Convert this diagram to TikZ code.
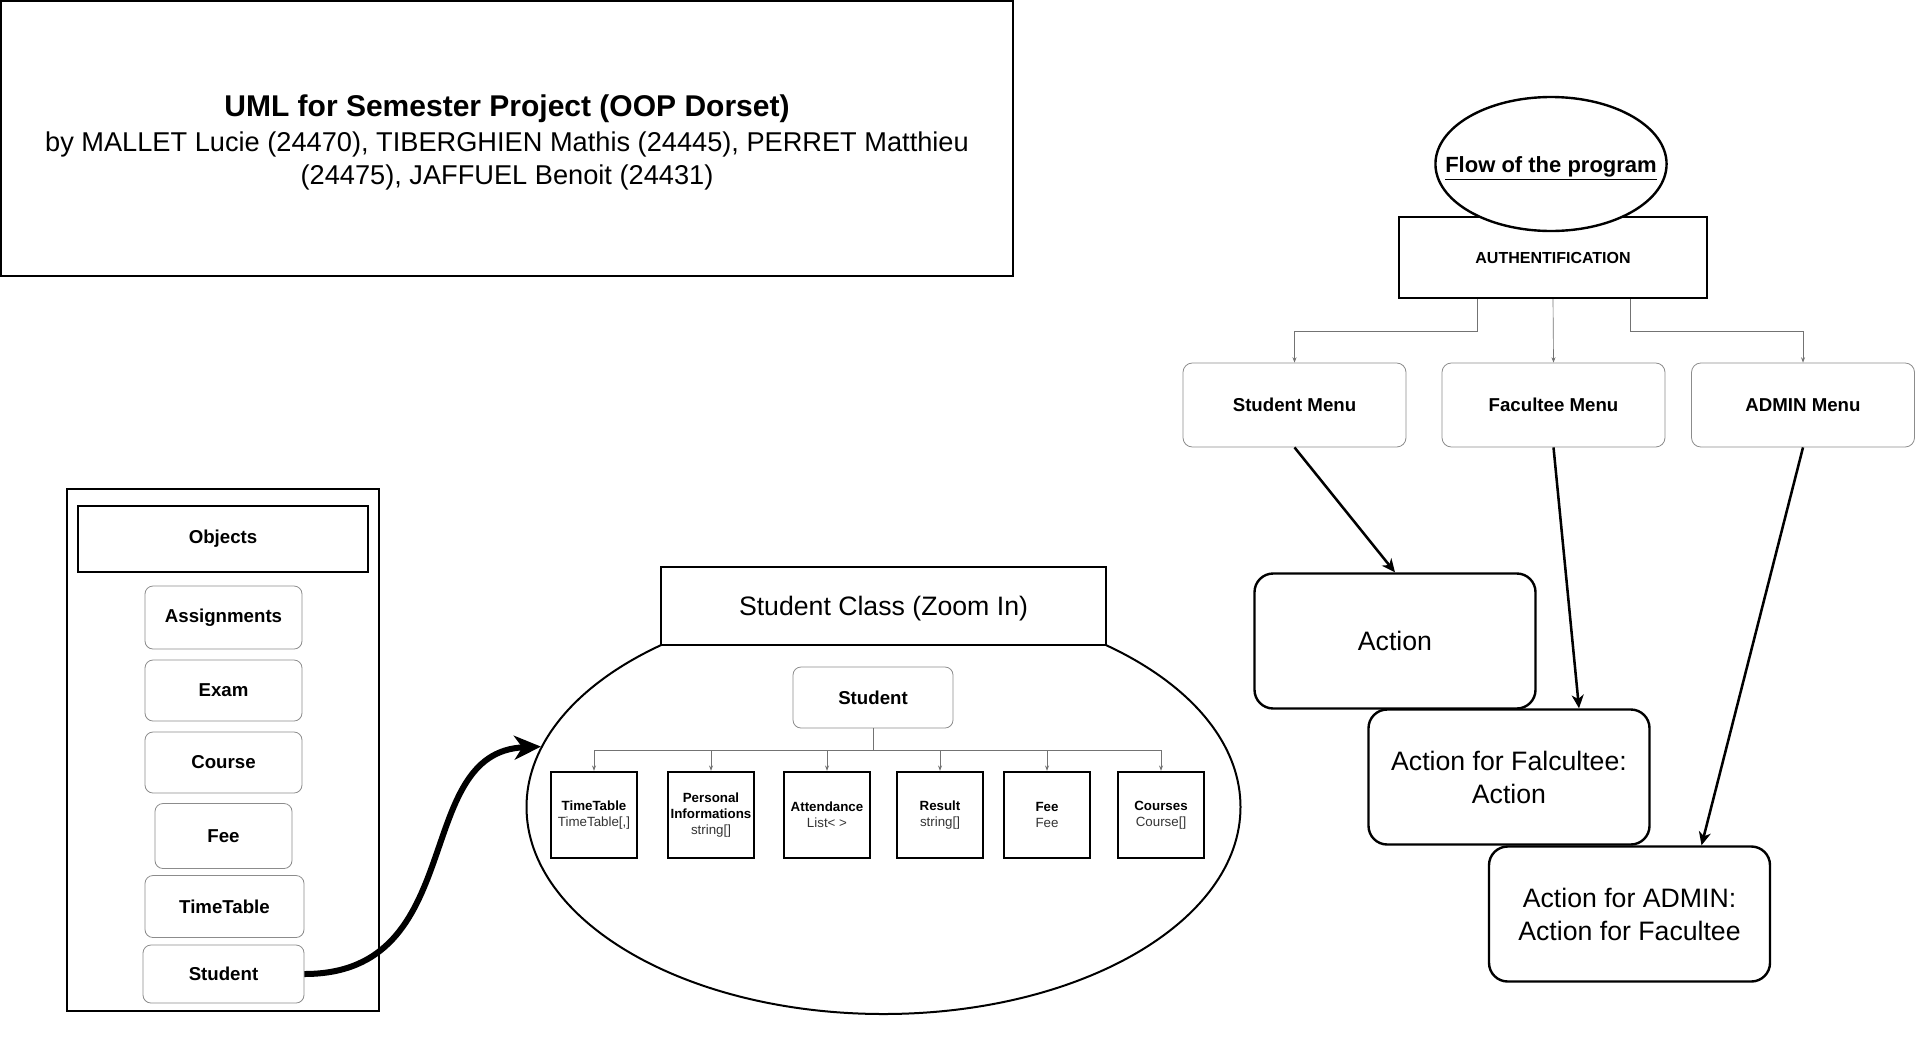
\documentclass[tikz,border=0pt]{standalone}
\usepackage{fontspec}
\setmainfont{Liberation Sans}
\usetikzlibrary{shapes.geometric,arrows.meta,calc}

\begin{document}
\begin{tikzpicture}[x=0.75pt,y=-0.75pt,
  thickbox/.style={draw,line width=1.8pt,fill=white,inner sep=0pt},
  menubox/.style={draw=black!45,line width=0.6pt,rounded corners=7pt,fill=white,inner sep=0pt,
    minimum width=167.25pt,minimum height=63pt,font=\fontsize{14}{17}\selectfont\bfseries},
  objbox/.style={draw=black!45,line width=0.6pt,rounded corners=6pt,fill=white,inner sep=0pt,
    font=\fontsize{14}{17}\selectfont\bfseries},
  actbox/.style={draw,line width=1.8pt,rounded corners=14pt,fill=white,align=center,
    minimum width=210.75pt,minimum height=101.25pt,font=\fontsize{20}{24.75}\selectfont},
  attrbox/.style={draw,line width=1.8pt,inner sep=0pt,align=center,
    minimum width=64.5pt,minimum height=64.5pt,font=\fontsize{10}{12}\selectfont},
  treeline/.style={draw=black!55,line width=0.5pt},
  treearrow/.style={treeline,-{Stealth[length=4pt,width=3pt]}},
  flowarrow/.style={line width=1.9pt,-{Stealth[length=10pt,width=9pt,inset=3pt]}}
]
\useasboundingbox (0,0) rectangle (1916,1043);

\node[thickbox,minimum width=759pt,minimum height=206.25pt] (title) at (507,138.5) {};
\node[align=center,inner sep=0pt,font=\fontsize{20.4}{24.75}\selectfont] (titletext)
  at ($(title.center)+(0,4)$)
  {{\fontsize{22.5}{27}\selectfont\bfseries UML for Semester Project (OOP Dorset)}\\[1pt]
   by MALLET Lucie (24470), TIBERGHIEN Mathis (24445), PERRET Matthieu\\
   (24475), JAFFUEL Benoit (24431)};

\node[thickbox,minimum width=231pt,minimum height=60.75pt,
  font=\fontsize{12}{14}\selectfont\bfseries] (auth) at (1553,257.5) {AUTHENTIFICATION};
\node[ellipse,draw,line width=1.8pt,fill=white,inner xsep=-18pt,inner ysep=0pt,
  minimum width=172.5pt,minimum height=100.5pt,text height=18pt,text depth=5pt,
  font=\fontsize{16.5}{20}\selectfont\bfseries] (flowtitle) at (1551,164)
  {\underline{Flow of the program}};

\node[menubox] (smenu) at (1294.5,405) {Student Menu};
\node[menubox] (fmenu) at (1553.5,405) {Facultee Menu};
\node[menubox] (amenu) at (1803,405) {ADMIN Menu};

\draw[treearrow] ($(auth.south)+(-76,0)$) -- ++(0,32) -| (smenu.north);
\draw[treearrow] (auth.south) -- (fmenu.north);
\draw[treearrow] ($(auth.south)+(77,0)$) -- ++(0,32) -| (amenu.north);

\node[actbox] (actstu) at (1395,641) {Action};
\node[actbox] (actfac) at (1509,777) {Action for Falcultee:\\Action};
\node[actbox] (actadm) at (1629.5,914) {Action for ADMIN:\\Action for Facultee};

\draw[flowarrow] (smenu.south) -- (actstu.north);
\draw[flowarrow] (fmenu.south) -- ($(actfac.north)+(70,0)$);
\draw[flowarrow] (amenu.south) -- ($(actadm.north)+(72,0)$);

\node[thickbox,minimum width=234pt,minimum height=391.5pt] (objframe) at (223,750) {};
\node[thickbox,minimum width=217.5pt,minimum height=49.5pt,
  font=\fontsize{14}{17}\selectfont\bfseries] (objhead) at (223,539) {Objects};
\node[objbox,minimum width=117.75pt,minimum height=47.25pt] (assign) at (223.5,617.5) {Assignments};
\node[objbox,minimum width=117.75pt,minimum height=45.75pt] (exam) at (223.5,690.5) {Exam};
\node[objbox,minimum width=117.75pt,minimum height=45.75pt] (course) at (223.5,762.5) {Course};
\node[objbox,minimum width=102.75pt,minimum height=48.75pt] (fee) at (223.5,836) {Fee};
\node[objbox,minimum width=119.25pt,minimum height=46.5pt] (timetab) at (224.5,906.5) {TimeTable};
\node[objbox,minimum width=120.75pt,minimum height=43.5pt] (stuobj) at (223.5,974) {Student};

\node[ellipse,draw,line width=1.5pt,inner sep=0pt,minimum width=535.5pt,
  minimum height=310.5pt] (zoomell) at (883.5,807) {};
\node[thickbox,minimum width=333.75pt,minimum height=58.5pt,text height=19pt,text depth=4.5pt,
  font=\fontsize{20}{24}\selectfont] (zoomhead) at (883.5,606) {Student Class (Zoom In)};

\draw[line width=4.5pt,-{Stealth[length=20pt,width=18pt,inset=6pt]}]
  (stuobj.east) .. controls (470,974) and (410,752) .. (zoomell.170);

\node[objbox,minimum width=120pt,minimum height=45.75pt] (stuclass) at (873,697.5) {Student};
\draw[treeline] (stuclass.south) -- ++(0,22) coordinate (split);

\node[attrbox] (attrtt) at (594,815) {\textbf{TimeTable}\\{\color{black!80}TimeTable[,]}};
\node[attrbox] (attrpi) at (711,815) {\textbf{Personal}\\\textbf{Informations}\\{\color{black!80}string[]}};
\node[attrbox] (attrat) at (827,815) {\textbf{Attendance}\\{\color{black!80}List< >}};
\node[attrbox] (attrre) at (940,815) {\textbf{Result}\\{\color{black!80}string[]}};
\node[attrbox] (attrfe) at (1047,815) {\textbf{Fee}\\{\color{black!80}Fee}};
\node[attrbox] (attrco) at (1161,815) {\textbf{Courses}\\{\color{black!80}Course[]}};

\draw[treearrow] (split) -| (attrtt.north);
\draw[treearrow] (split) -| (attrpi.north);
\draw[treearrow] (split) -| (attrat.north);
\draw[treearrow] (split) -| (attrre.north);
\draw[treearrow] (split) -| (attrfe.north);
\draw[treearrow] (split) -| (attrco.north);
\end{tikzpicture}
\end{document}
